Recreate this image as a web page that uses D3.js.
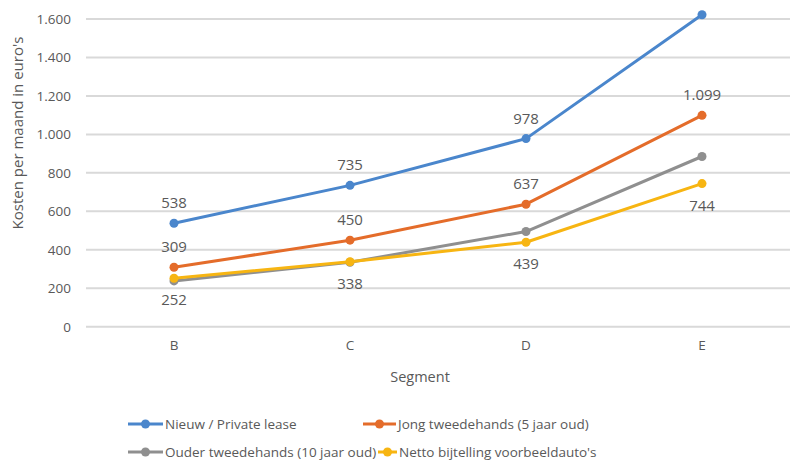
<!DOCTYPE html>
<html><head><meta charset="utf-8">
<script src="https://cdn.jsdelivr.net/npm/d3@7"></script>
<style>body{margin:0;background:#fff;}text{font-family:"Open Sans","Noto Sans",sans-serif;}</style>
</head><body><svg id="c" width="792" height="464"></svg>
<script>
const categories = ["B","C","D","E"];
const seriesNames = ["Nieuw / Private lease","Jong tweedehands (5 jaar oud)","Ouder tweedehands (10 jaar oud)","Netto bijtelling voorbeeldauto's"];
const nieuw = [538, 735, 978, 1622];
const jong = [309, 450, 637, 1099];
const ouder = [238, 335, 495, 885];
const netto = [252, 338, 439, 744];
const yTicks = [0,200,400,600,800,1000,1200,1400,1600];
const colors = ["#4a86cc","#e46c2a","#8f8f8f","#f7b512"];
const labelPos = ["above","above","none","below"];
const labelSkip = [[3],[],[],[]];

const svg = d3.select("#c");
const m = {l:86, r:790, t:19, b:326.7};
const x = d3.scaleBand().domain(categories).range([m.l, m.r]);
const y = d3.scaleLinear().domain([0,1600]).range([m.b, m.t]);
const fmt = v => d3.format(",")(v).replace(/,/g,".");

// grid
svg.append("g").selectAll("line").data(yTicks).join("line")
  .attr("x1", m.l).attr("x2", m.r).attr("y1", d=>y(d)).attr("y2", d=>y(d))
  .attr("stroke","#d9d9d9").attr("stroke-width",2);
// y tick labels
const yAxis = svg.append("g").attr("transform",`translate(${m.l},0)`)
  .call(d3.axisLeft(y).tickValues(yTicks).tickFormat(fmt).tickSize(0).tickPadding(15));
yAxis.select(".domain").remove();
yAxis.selectAll("text").attr("fill","#595959").style("font-size","13.5px").style("font-family","'Open Sans','Noto Sans',sans-serif");
// x axis labels
const xAxis = svg.append("g").attr("transform",`translate(0,${m.b})`)
  .call(d3.axisBottom(x).tickSize(0).tickPadding(14));
xAxis.select(".domain").remove();
xAxis.selectAll("text").attr("fill","#595959").style("font-size","13.5px").style("font-family","'Open Sans','Noto Sans',sans-serif");

// axis titles
svg.append("text").attr("x",420).attr("y",382).attr("text-anchor","middle")
  .attr("fill","#595959").style("font-size","14.5px").text("Segment");
svg.append("text").attr("transform","translate(23,133) rotate(-90)").attr("text-anchor","middle")
  .attr("fill","#595959").style("font-size","15px").text("Kosten per maand in euro's");

const allSeries = [nieuw, jong, ouder, netto];
const line = d3.line().x((d,i)=>x(categories[i])+x.bandwidth()/2).y(d=>y(d));
const order = [2,3,1,0];
order.forEach(si=>{
  const data = allSeries[si];
  const g = svg.append("g");
  g.append("path").datum(data).attr("d",line).attr("fill","none")
    .attr("stroke",colors[si]).attr("stroke-width",3).attr("stroke-linejoin","round");
  g.selectAll("circle").data(data).join("circle")
    .attr("cx",(d,i)=>x(categories[i])+x.bandwidth()/2).attr("cy",d=>y(d)).attr("r",4.5)
    .attr("fill",colors[si]);
});
allSeries.forEach((data,si)=>{
  if(labelPos[si]==="none") return;
  svg.append("g").selectAll("text").data(data.map((v,i)=>({v,i})).filter(d=>!labelSkip[si].includes(d.i))).join("text")
    .attr("x",d=>x(categories[d.i])+x.bandwidth()/2)
    .attr("y",d=> labelPos[si]==="above" ? y(d.v)-15 : y(d.v)+27)
    .attr("text-anchor","middle").attr("fill","#595959").style("font-size","15px")
    .text(d=>fmt(d.v));
});

// legend
const legendPos = [[128,424],[363,424],[128,452],[378,452]];
const legendSym = [35,33,35,19];
seriesNames.forEach((n,i)=>{
  const [lx,ly] = legendPos[i];
  const w = legendSym[i];
  const lg = svg.append("g");
  lg.append("line").attr("x1",lx).attr("x2",lx+w).attr("y1",ly).attr("y2",ly)
    .attr("stroke",colors[i]).attr("stroke-width",3);
  lg.append("circle").attr("cx",lx+w/2).attr("cy",ly).attr("r",4.5).attr("fill",colors[i]);
  lg.append("text").attr("x",lx+w+2).attr("y",ly+4.5).attr("fill","#595959").style("font-size","13.5px").text(n);
});
</script></body></html>
